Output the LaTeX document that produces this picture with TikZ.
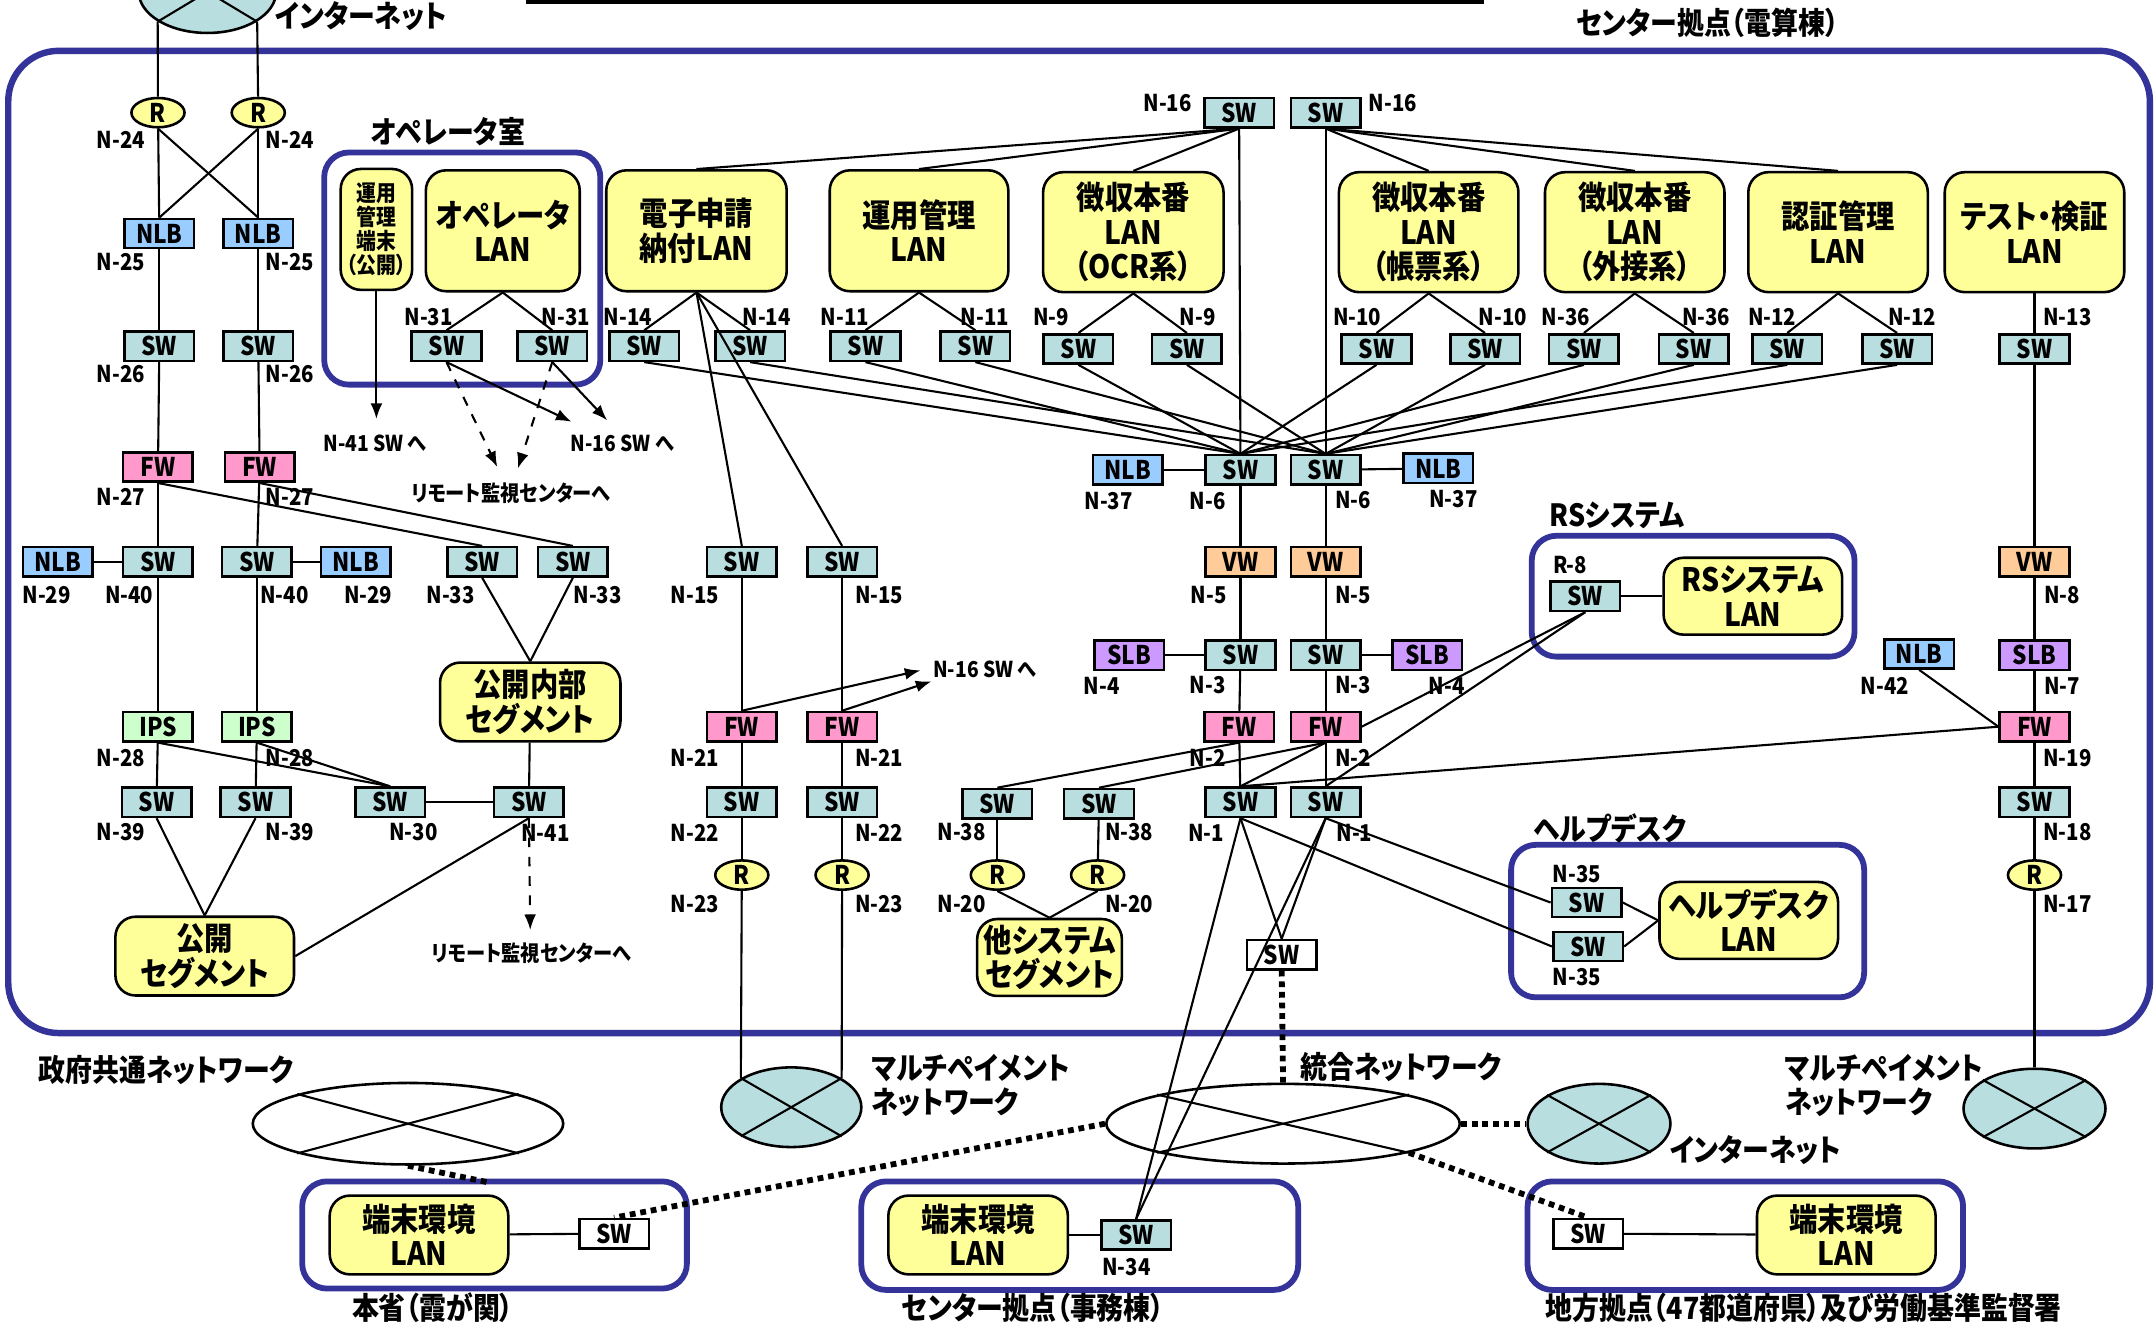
\documentclass[tikz,border=0pt]{standalone}
\usepackage{fontspec}
\setmainfont{Noto Sans CJK JP}[FakeStretch=0.88,RawFeature=+palt]
\usetikzlibrary{%
    arrows.meta,
    shapes.geometric
}
\definecolor{swcyan}{RGB}{185,222,224}
\definecolor{nlbblue}{RGB}{153,204,255}
\definecolor{fwpink}{RGB}{255,153,204}
\definecolor{ipsgreen}{RGB}{204,255,204}
\definecolor{vworange}{RGB}{255,204,153}
\definecolor{slbpurple}{RGB}{204,153,255}
\definecolor{lanyellow}{RGB}{255,255,153}
\definecolor{framenavy}{RGB}{51,51,153}
\newcommand{\devfont}{\fontsize{8}{8}\selectfont\bfseries}
\newcommand{\numfont}{\fontsize{7.2}{7.2}\selectfont\bfseries}
\newcommand{\lanfont}{\fontsize{10}{10.7}\selectfont\bfseries}
\newcommand{\termfont}{\fontsize{7}{7.5}\selectfont\bfseries}
\newcommand{\grpfont}{\fontsize{9.5}{10.4}\selectfont\bfseries}
\newcommand{\notefont}{\fontsize{6.8}{7}\selectfont\bfseries}
\tikzset{
    headarrow/.style = {-{Latex[length=1.7mm,width=1.3mm]}},
    link/.style = {line width=.65pt},
    dotlink/.style = {line width=1.8pt, dash pattern=on 1.8pt off 1.5pt},
    dev/.style = {draw, line width=.8pt, minimum width=.76cm, minimum height=.32cm,
                  inner sep=0pt, font=\devfont},
    swbox/.style = {dev, fill=swcyan},
    wswbox/.style = {dev, fill=white},
    nlbbox/.style = {dev, fill=nlbblue},
    fwbox/.style = {dev, fill=fwpink},
    ipsbox/.style = {dev, fill=ipsgreen},
    vwbox/.style = {dev, fill=vworange},
    slbbox/.style = {dev, fill=slbpurple},
    router/.style = {draw, line width=.8pt, ellipse, fill=lanyellow, inner sep=0pt,
                     minimum width=.58cm, minimum height=.32cm, font=\devfont},
    lanbox/.style = {draw, line width=.8pt, fill=lanyellow, rounded corners=.22cm,
                     align=center, inner sep=0pt, font=\lanfont},
    netcloud/.style = {draw, line width=.8pt, ellipse, inner sep=0pt},
    grp/.style = {draw=framenavy, line width=1.8pt, rounded corners=.27cm},
    nlabel/.style = {inner sep=0pt, font=\numfont},
    grplabel/.style = {inner sep=0pt, font=\grpfont},
    note/.style = {inner sep=0pt, font=\notefont}
}

\begin{document}
\begin{tikzpicture}[x=0.015cm, y=-0.015cm]
    \useasboundingbox (0,0) rectangle (1568,964);

    % frames
    \draw[grp, line width=2pt, rounded corners=.55cm] (6,37) rectangle (1565,752);
    \draw[grp] (236,111) rectangle (437,280);
    \draw[grp] (1115,390) rectangle (1350,478);
    \draw[grp] (1100,615) rectangle (1357,726);
    \draw[grp] (220,860) rectangle (500,938);
    \draw[grp] (627,860) rectangle (945,939);
    \draw[grp] (1112,860) rectangle (1429,939);
    \draw[line width=1pt] (383,1.5) -- (1080,1.5);

    % clouds
    \node[netcloud, fill=swcyan, minimum width=1.5cm, minimum height=.9cm] (inet1) at (151,-6) {};
    \node[netcloud, fill=swcyan, minimum width=1.53cm, minimum height=.87cm] (mp1) at (576,806) {};
    \node[netcloud, fill=white, minimum width=3.39cm, minimum height=.89cm] (gov) at (297,818) {};
    \node[netcloud, fill=white, minimum width=3.86cm, minimum height=.87cm] (togo) at (934,818) {};
    \node[netcloud, fill=swcyan, minimum width=1.56cm, minimum height=.87cm] (inet2) at (1164,818) {};
    \node[netcloud, fill=swcyan, minimum width=1.55cm, minimum height=.87cm] (mp2) at (1481,807) {};
    \foreach \Cloud/\Angle in {inet1/31, mp1/30, gov/15, togo/13, inet2/29, mp2/29}
        {
            \pgfmathtruncatemacro{\Opp}{180+\Angle}
            \pgfmathtruncatemacro{\Neg}{180-\Angle}
            \pgfmathtruncatemacro{\Back}{360-\Angle}
            \draw[link] (\Cloud.\Angle) -- (\Cloud.\Opp);
            \draw[link] (\Cloud.\Neg) -- (\Cloud.\Back);
        }

    % LAN and segment boxes
    \node[lanbox, minimum width=.78cm, minimum height=1.32cm, font=\termfont] (opterm) at (274,167) {運用\\管理\\端末\\（公開）};
    \foreach \Name/\X/\Y/\W/\H/\Text in {%
        oplan/366/168/1.68/1.32/{オペレータ\\LAN},
        eapp/507/168/1.97/1.32/{電子申請\\納付LAN},
        opmgmt/669/168/1.95/1.32/{運用管理\\LAN},
        ocr/825/169/1.97/1.31/{徴収本番\\LAN\\（OCR系）},
        chohyo/1040/169/1.96/1.31/{徴収本番\\LAN\\（帳票系）},
        gaisetsu/1190/169/1.96/1.31/{徴収本番\\LAN\\（外接系）},
        auth/1338/169/1.96/1.31/{認証管理\\LAN},
        test/1481/169/1.96/1.31/{テスト・検証\\LAN},
        pubin/386/511/1.97/.86/{公開内部\\セグメント},
        pub/149/696/1.95/.86/{公開\\セグメント},
        other/764/697/1.58/.84/{他システム\\セグメント},
        rslan/1276/434/1.95/.84/{RSシステム\\LAN},
        hdlan/1273/670/1.95/.84/{ヘルプデスク\\LAN},
        termhs/305/899/1.95/.86/{端末環境\\LAN},
        termjm/712/899/1.96/.86/{端末環境\\LAN},
        termch/1344/899/1.95/.86/{端末環境\\LAN}%
    }
        \node[lanbox, minimum width=\W cm, minimum height=\H cm] (\Name) at (\X,\Y) {\Text};

    % devices
    \foreach \Name/\X/\Y in {%
        r24a/115/82, r24b/188/82, r23a/540/637, r23b/613/637,
        r20a/726/637, r20b/799/637, r17/1481/637%
    }
        \node[router] (\Name) at (\X,\Y) {R};
    \foreach \Name/\X/\Y in {%
        nlb25a/116/170, nlb25b/188/170, nlb29a/42/409, nlb29b/259/409,
        nlb37a/821/342, nlb37b/1047/341, nlb42/1397/476%
    }
        \node[nlbbox] (\Name) at (\X,\Y) {NLB};
    \foreach \Name/\X/\Y in {%
        sw26a/116/252, sw26b/188/252, sw40a/115/409, sw40b/187/409,
        sw33a/351/409, sw33b/417/409, sw39a/114/584, sw39b/186/584,
        sw30/284/584, sw41/385/584, sw31a/325/252, sw31b/402/252,
        sw14a/469/252, sw14b/546/252, sw11a/630/252, sw11b/710/252,
        sw9a/785/254, sw9b/864/254, sw10a/1002/254, sw10b/1081/254,
        sw36a/1153/254, sw36b/1233/254, sw12a/1301/254, sw12b/1381/254,
        sw13/1481/254, sw16a/902/82, sw16b/965/82, sw6a/903/342,
        sw6b/965/342, sw3a/903/477, sw3b/965/477, sw1a/903/584,
        sw1b/965/584, sw15a/540/409, sw15b/613/409, sw22a/540/584,
        sw22b/613/584, sw38a/726/585, sw38b/800/585, swrs/1154/434,
        sw35a/1155/657, sw35b/1156/689, sw18/1481/584, sw34/827/899%
    }
        \node[swbox] (\Name) at (\X,\Y) {SW};
    \foreach \Name/\X/\Y in {swgs/933/695, swhs/447/898, swch/1156/898}
        \node[wswbox] (\Name) at (\X,\Y) {SW};
    \foreach \Name/\X/\Y in {%
        fw27a/115/340, fw27b/189/340, fw21a/540/529, fw21b/613/529,
        fw2a/902/529, fw2b/965/529, fw19/1481/529%
    }
        \node[fwbox] (\Name) at (\X,\Y) {FW};
    \node[ipsbox] (ips28a) at (115,529) {IPS};
    \node[ipsbox] (ips28b) at (187,529) {IPS};
    \foreach \Name/\X/\Y in {vw5a/903/409, vw5b/965/409, vw8/1481/409}
        \node[vwbox] (\Name) at (\X,\Y) {VW};
    \foreach \Name/\X/\Y in {slb4a/822/477, slb4b/1039/477, slb7/1481/477}
        \node[slbbox] (\Name) at (\X,\Y) {SLB};

    % labels
    \foreach \Name/\X/\Y/\Text in {%
        l24a/88/102/N-24, l24b/211/102/N-24, l25a/88/191/N-25, l25b/211/191/N-25,
        l26a/88/272/N-26, l26b/211/272/N-26, l27a/88/362/N-27, l27b/211/362/N-27,
        l29a/34/433/N-29, l40a/94/433/N-40, l40b/207/433/N-40, l29b/268/433/N-29,
        l33a/328/433/N-33, l33b/435/433/N-33, l28a/88/552/N-28, l28b/211/552/N-28,
        l39a/88/606/N-39, l39b/211/606/N-39, l30/301/606/N-30, l41/397/606/N-41,
        l31a/312/231/N-31, l31b/412/231/N-31, l14a/457/231/N-14, l14b/558/231/N-14,
        l11a/615/231/N-11, l11b/717/231/N-11, l9a/765/231/N-9, l9b/872/231/N-9,
        l10a/988/231/N-10, l10b/1094/231/N-10, l36a/1140/231/N-36, l36b/1242/231/N-36,
        l12a/1290/231/N-12, l12b/1392/231/N-12, l13/1505/231/N-13,
        l16a/850/75/N-16, l16b/1014/75/N-16,
        l37a/807/365/N-37, l6a/879/365/N-6, l6b/985/364/N-6, l37b/1058/363/N-37,
        l5a/880/433/N-5, l5b/985/433/N-5,
        l4a/802/499/N-4, l3a/879/499/N-3, l3b/985/499/N-3, l4b/1053/499/N-4,
        l2a/879/552/N-2, l2b/985/552/N-2, l1a/878/606/N-1, l1b/986/606/N-1,
        l15a/506/433/N-15, l15b/640/433/N-15, l21a/506/552/N-21, l21b/640/552/N-21,
        l22a/506/606/N-22, l22b/640/606/N-22, l23a/506/658/N-23, l23b/640/658/N-23,
        l38a/700/606/N-38, l38b/822/606/N-38, l20a/700/658/N-20, l20b/822/658/N-20,
        l8/1501/433/N-8, l42/1372/499/N-42, l7/1501/499/N-7, l19/1505/552/N-19,
        l18/1505/606/N-18, l17/1505/658/N-17,
        l35a/1148/636/N-35, l35b/1148/711/N-35, l34/820/922/N-34, lr8/1143/411/R-8%
    }
        \node[nlabel] (\Name) at (\X,\Y) {\Text};

    \node[grplabel] (oproomlbl) at (326,96) {オペレータ室};
    \node[grplabel] (rslbl) at (1177,375) {RSシステム};
    \node[grplabel] (hdlbl) at (1172,603) {ヘルプデスク};
    \node[grplabel] (centerlbl) at (1243,17) {センター拠点（電算棟）};
    \node[grplabel] (inet1lbl) at (263,12) {インターネット};
    \node[grplabel] (govlbl) at (121,779) {政府共通ネットワーク};
    \node[grplabel, anchor=west, align=left] (mp1lbl) at (634,790) {マルチペイメント\\ネットワーク};
    \node[grplabel, anchor=west, align=left] (mp2lbl) at (1299,790) {マルチペイメント\\ネットワーク};
    \node[grplabel] (togolbl) at (1020,777) {統合ネットワーク};
    \node[grplabel] (inet2lbl) at (1278,837) {インターネット};
    \node[grplabel] (honsholbl) at (315,952) {本省（霞が関）};
    \node[grplabel] (jimulbl) at (752,952) {センター拠点（事務棟）};
    \node[grplabel] (chiholbl) at (1313,952) {地方拠点（47都道府県）及び労働基準監督署};

    \node[note] (n41note) at (273,323) {N-41 SW へ};
    \node[note] (n16note) at (453,323) {N-16 SW へ};
    \node[note] (rmnoteA) at (372,359) {リモート監視センターへ};
    \node[note] (rmnoteB) at (387,694) {リモート監視センターへ};
    \node[note] (n16noteB) at (717,487) {N-16 SW へ};

    % arrow ends
    \coordinate (to41) at (274,305);
    \coordinate (to16a) at (416,307);
    \coordinate (to16b) at (442,306);
    \coordinate (rmonA) at (362,340);
    \coordinate (rmonB) at (377,341);
    \coordinate (rmonC) at (386,677);
    \coordinate (to16c) at (670,488);
    \coordinate (to16d) at (678,496);
    \coordinate (hsin) at (357,861);

    % connectors
    \foreach \Source/\Target in {%
        r24a/inet1.211, r24b/inet1.329,
        r24a/nlb25a, r24b/nlb25b, r24a.south/nlb25b.north, r24b.south/nlb25a.north,
        nlb25a/sw26a, nlb25b/sw26b, sw26a/fw27a, sw26b/fw27b,
        fw27a/sw40a, fw27b/sw40b, fw27a.south/sw33a.north, fw27b.south/sw33b.north,
        nlb29a/sw40a, sw40b/nlb29b, sw40a/ips28a, sw40b/ips28b,
        ips28a/sw39a, ips28b/sw39b, ips28a.south/sw30.north, ips28b.south/sw30.north,
        sw30/sw41, sw33a.south/pubin.north, sw33b.south/pubin.north, pubin/sw41,
        sw39a.south/pub.north, sw39b.south/pub.north, sw41.south/pub.east,
        oplan.south/sw31a.north, oplan.south/sw31b.north,
        sw16a.south/eapp.north, sw16a.south/opmgmt.north, sw16a.south/ocr.north,
        sw16b.south/chohyo.north, sw16b.south/gaisetsu.north, sw16b.south/auth.north,
        sw16a/sw6a, sw16b/sw6b,
        eapp.south/sw14a.north, eapp.south/sw14b.north,
        eapp.south/sw15a.north, eapp.south/sw15b.north,
        opmgmt.south/sw11a.north, opmgmt.south/sw11b.north,
        ocr.south/sw9a.north, ocr.south/sw9b.north,
        chohyo.south/sw10a.north, chohyo.south/sw10b.north,
        gaisetsu.south/sw36a.north, gaisetsu.south/sw36b.north,
        auth.south/sw12a.north, auth.south/sw12b.north, test/sw13,
        sw14a.south/sw6a.north, sw14b.south/sw6b.north,
        sw11a.south/sw6a.north, sw11b.south/sw6b.north,
        sw9a.south/sw6a.north, sw9b.south/sw6b.north,
        sw10a.south/sw6a.north, sw10b.south/sw6b.north,
        sw36a.south/sw6a.north, sw36b.south/sw6b.north,
        sw12a.south/sw6a.north, sw12b.south/sw6b.north,
        nlb37a/sw6a, sw6b/nlb37b,
        sw6a/vw5a, vw5a/sw3a, sw3a/fw2a, fw2a/sw1a,
        sw6b/vw5b, vw5b/sw3b, sw3b/fw2b, fw2b/sw1b,
        slb4a/sw3a, sw3b/slb4b,
        fw2a.south/sw38a.north, fw2b.south/sw38b.north, fw2b.south/sw1a.north,
        swrs.south/fw2b.east, swrs.south/sw1b.north, sw1a.north/fw19.west,
        swrs/rslan,
        sw13/vw8, vw8/slb7, slb7/fw19, fw19/sw18, sw18/r17, r17/mp2,
        nlb42.south/fw19.west,
        sw38a/r20a, sw38b/r20b, r20a.south/other.north, r20b.south/other.north,
        sw15a/fw21a, sw15b/fw21b, fw21a/sw22a, fw21b/sw22b,
        sw22a/r23a, sw22b/r23b, r23a/mp1.150, r23b/mp1.30,
        sw1a.south/swgs.north, sw1b.south/swgs.north,
        sw1a.south/sw34.north, sw1b.south/sw34.north,
        sw1a.south/sw35b.west, sw1b.south/sw35a.west,
        sw35a.east/hdlan.west, sw35b.east/hdlan.west,
        termhs/swhs, termjm/sw34, swch/termch%
    }
        \draw[link] (\Source) -- (\Target);

    \foreach \Source/\Target in {%
        opterm.south/to41, sw31a.south/to16a, sw31b.south/to16b,
        fw21a.north/to16c, fw21b.north/to16d%
    }
        \draw[link, headarrow] (\Source) -- (\Target);
    \foreach \Source/\Target in {sw31a.south/rmonA, sw31b.south/rmonB, sw41.south/rmonC}
        \draw[link, headarrow, dashed] (\Source) -- (\Target);

    \foreach \Source/\Target in {%
        swgs.south/togo.north, togo.west/swhs.north, togo.east/inet2.west,
        togo.347/swch.north, gov.south/hsin%
    }
        \draw[dotlink] (\Source) -- (\Target);
\end{tikzpicture}
\end{document}
